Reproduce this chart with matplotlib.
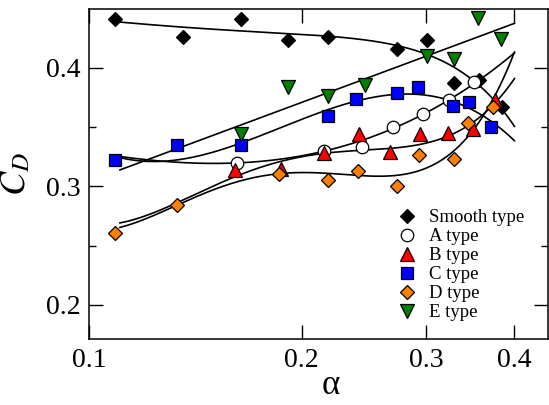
import numpy as np
import matplotlib
matplotlib.use("Agg")
import matplotlib.pyplot as plt

plt.rcParams['font.family'] = ['Liberation Serif', 'DejaVu Serif']
plt.rcParams['mathtext.fontset'] = 'stix'

# ---- measured points ----
smooth_x = [0.109, 0.136, 0.164, 0.191, 0.218, 0.273, 0.301, 0.328, 0.356, 0.384]
smooth_y = [0.441, 0.426, 0.441, 0.423, 0.426, 0.416, 0.423, 0.387, 0.390, 0.367]

a_x = [0.162, 0.215, 0.243, 0.269, 0.297, 0.323, 0.351]
a_y = [0.320, 0.330, 0.333, 0.350, 0.361, 0.373, 0.388]

b_x = [0.161, 0.187, 0.215, 0.241, 0.267, 0.294, 0.322, 0.349, 0.376]
b_y = [0.314, 0.315, 0.328, 0.344, 0.329, 0.344, 0.345, 0.348, 0.373]

c_x = [0.109, 0.133, 0.164, 0.218, 0.239, 0.273, 0.292, 0.327, 0.345, 0.371]
c_y = [0.322, 0.335, 0.335, 0.359, 0.374, 0.379, 0.384, 0.368, 0.371, 0.350]

d_x = [0.109, 0.133, 0.186, 0.218, 0.240, 0.273, 0.293, 0.328, 0.344, 0.373]
d_y = [0.261, 0.284, 0.310, 0.305, 0.313, 0.300, 0.326, 0.323, 0.353, 0.367]

e_x = [0.164, 0.191, 0.218, 0.246, 0.301, 0.328, 0.355, 0.383]
e_y = [0.344, 0.384, 0.376, 0.385, 0.410, 0.407, 0.442, 0.424]

# ---- points ----
smooth_fit_x = [0.1106, 0.1364, 0.164, 0.1905, 0.2184, 0.2727, 0.3006, 0.3496, 0.400]
smooth_fit_y = [0.438, 0.4345, 0.4315, 0.429, 0.426, 0.4177, 0.4121, 0.3896, 0.3503]

a_fit_x = [0.1106, 0.1618, 0.2153, 0.2426, 0.269, 0.2967, 0.3232, 0.3507, 0.3817, 0.400]
a_fit_y = [0.325, 0.3203, 0.330, 0.337, 0.348, 0.361, 0.374, 0.388, 0.4006, 0.413]

b_fit_x = [0.1106, 0.1609, 0.1874, 0.2153, 0.2426, 0.294, 0.3486, 0.3817, 0.400]
b_fit_y = [0.2689, 0.311, 0.3166, 0.3279, 0.3321, 0.3376, 0.350, 0.3753, 0.392]

c_fit_x = [0.1106, 0.1327, 0.1636, 0.2184, 0.2726, 0.294, 0.3271, 0.3496, 0.3714, 0.400]
c_fit_y = [0.321, 0.328, 0.337, 0.357, 0.377, 0.380, 0.376, 0.367, 0.352, 0.336]

d_fit_x = [0.1106, 0.1331, 0.1864, 0.2217, 0.2697, 0.3278, 0.3499, 0.3817, 0.400]
d_fit_y = [0.2647, 0.2857, 0.3081, 0.3104, 0.3138, 0.325, 0.3475, 0.387, 0.413]

e_fit_x = [0.1106, 0.400]
e_fit_y = [0.3138, 0.4374]

labels = ['Smooth type', 'A type', 'B type', 'C type', 'D type', 'E type']

series = [
    (smooth_x, smooth_y, 'D', 'black', 7.2),
    (a_x, a_y, 'o', 'white', 9),
    (b_x, b_y, '^', 'red', 10),
    (c_x, c_y, 's', 'blue', 8.5),
    (d_x, d_y, 'D', '#ff8000', 7.0),
    (e_x, e_y, 'v', '#007f00', 10),
]
# (x knots, y knots, degree, fit in log-x?)
fits = [
    (smooth_fit_x, smooth_fit_y, 3, False),
    (a_fit_x, a_fit_y, 3, True),
    (b_fit_x, b_fit_y, 4, True),
    (c_fit_x, c_fit_y, 3, True),
    (d_fit_x, d_fit_y, 4, True),
    (e_fit_x, e_fit_y, 1, True),
]

fig = plt.figure(figsize=(5.49, 4.05), dpi=100)
ax = fig.add_axes([0.1621, 0.1622, 0.8359, 0.8156])

for fx, fy, deg, logx in fits:
    fx = np.asarray(fx)
    xs = np.logspace(np.log10(fx[0]), np.log10(fx[-1]), 200)
    if logx:
        p = np.polyfit(np.log10(fx), fy, deg)
        ys = np.polyval(p, np.log10(xs))
    else:
        p = np.polyfit(fx, fy, deg)
        ys = np.polyval(p, xs)
    ax.plot(xs, ys, color='black', lw=1.2, zorder=2)

for (x, y, m, c, ms), lab in zip(series, labels):
    ax.plot(x, y, linestyle='none', marker=m, color=c, markersize=ms,
            markeredgecolor='black', markeredgewidth=0.9, label=lab, zorder=3)

ax.set_xscale('log')
ax.set_xlim(0.1, 0.446)
ax.set_ylim(0.171, 0.4495)
ax.set_xticks([0.1, 0.2, 0.3, 0.4])
ax.set_xticklabels(['0.1', '0.2', '0.3', '0.4'])
ax.xaxis.set_minor_locator(matplotlib.ticker.NullLocator())
ax.set_yticks([0.2, 0.3, 0.4])
ax.set_yticklabels(['0.2', '0.3', '0.4'])
ax.set_yticks([0.25, 0.35], minor=True)
ax.tick_params(which='both', direction='in', top=True, right=True, labelsize=20, width=1)
ax.tick_params(which='major', length=10, pad=6)
ax.tick_params(which='minor', length=5)
for s in ax.spines.values():
    s.set_linewidth(1.1)

ax.set_xlabel('α', fontsize=25)
ax.xaxis.label.set_va('baseline')
ax.xaxis.set_label_coords(0.527, -0.166)
ax.set_ylabel('$C_D$', fontsize=26)
ax.yaxis.set_label_coords(-0.122, 0.5)

leg = ax.legend(loc='lower right', bbox_to_anchor=(0.972, 0.02), frameon=False,
                fontsize=13.5, handletextpad=0.55, labelspacing=0.1,
                handlelength=1.2, borderaxespad=0.2)

fig.savefig('out.png', dpi=100)
